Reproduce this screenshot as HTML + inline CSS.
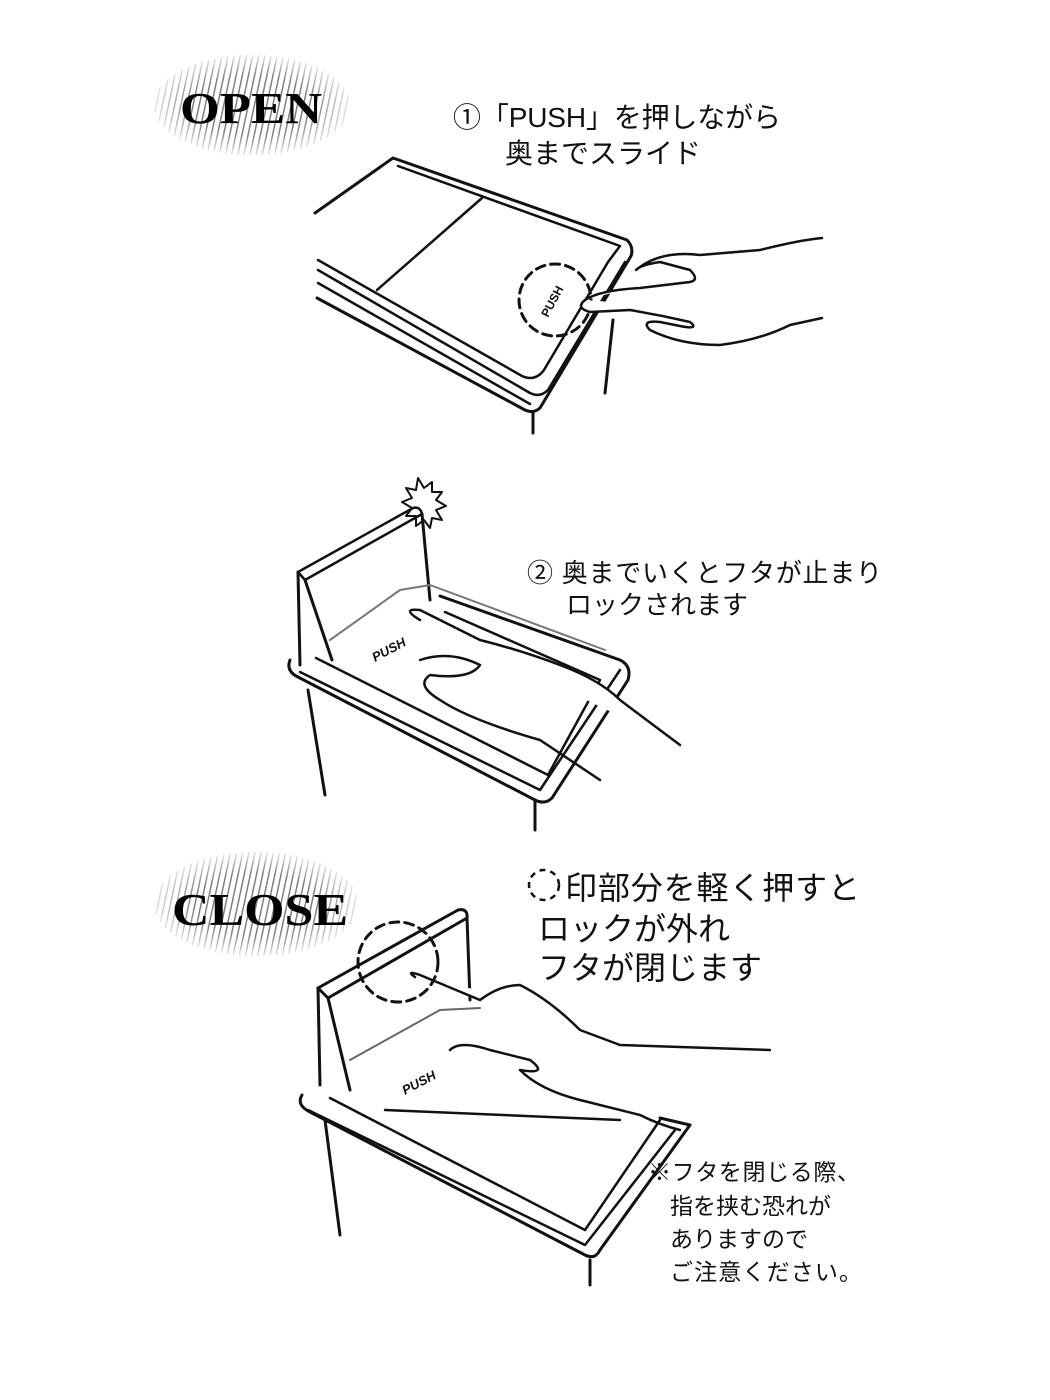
<!DOCTYPE html>
<html><head><meta charset="utf-8"><style>
html,body{margin:0;padding:0;background:#fff;}
svg{display:block}
.t{font-family:"Liberation Sans","Noto Sans CJK JP",sans-serif;fill:#111}
.b{font-family:"Liberation Serif",serif;font-weight:bold;fill:#000}
</style></head><body>
<svg width="1050" height="1400" viewBox="0 0 1050 1400" xmlns="http://www.w3.org/2000/svg">
<defs>
<pattern id="h" width="6" height="10" patternUnits="userSpaceOnUse" patternTransform="rotate(12)">
<rect width="6" height="10" fill="#fff"/><rect width="1.4" height="10" fill="#777"/></pattern>
<radialGradient id="fade"><stop offset="0.6" stop-color="#fff" stop-opacity="0"/><stop offset="1" stop-color="#fff" stop-opacity="0.8"/></radialGradient>
</defs>
<g fill="none" stroke="#111" stroke-width="3" stroke-linejoin="round" stroke-linecap="round">
<ellipse cx="252" cy="105" rx="98" ry="50" fill="url(#h)" stroke="none"/>
<ellipse cx="252" cy="105" rx="98" ry="50" fill="url(#fade)" stroke="none"/>
<ellipse cx="256" cy="904" rx="102" ry="52" fill="url(#h)" stroke="none"/>
<ellipse cx="256" cy="904" rx="102" ry="52" fill="url(#fade)" stroke="none"/>

<!-- Illustration 1 -->
<path d="M315 213 L393 158 L627 240 Q634 247 631 256 L540 408 Q533 414 525 410 L317 298"/>
<path d="M398 166 L620 246 L608 262 L544 370 Q535 382 522 376 L318 260" stroke-width="2.5"/>
<path d="M318 270 L530 393 Q540 398 548 390 L625 262" stroke-width="2.5"/>
<path d="M318 283 L530 404" stroke-width="2.5"/>
<path d="M482 198 L377 290" stroke-width="2.5"/>
<path d="M533 412 L533 433 M613 320 L605 393"/>
<circle cx="555" cy="300" r="36" stroke-dasharray="9 6" stroke-width="3"/>
<path d="M585 300 Q600 290 640 288 L690 282 Q700 280 690 270 L660 262 Q640 265 636 270 Q660 250 700 255 L760 250 Q800 240 822 238 M585 300 Q575 308 590 312 L630 310 Q660 315 690 322 Q700 330 680 326 L660 322 Q640 320 650 330 Q680 345 720 345 Q760 340 790 325 L822 318" fill="#fff" stroke-width="2.5"/>

<!-- Illustration 2 -->
<path d="M418 478 l6 10 l8 -6 l0 10 l10 0 l-6 8 l10 6 l-10 4 l6 10 l-10 -2 l-2 10 l-6 -8 l-8 6 l0 -10 l-10 0 l6 -8 l-10 -6 l10 -4 l-6 -10 l10 2 z" stroke-width="2" fill="#fff"/>
<path d="M298 572 L413 508 Q420 506 422 514 L305 580 Z" stroke-width="2.5"/>
<path d="M422 514 L430 600 M298 572 L300 665 M305 580 L332 660"/>
<path d="M330 640 L400 590 L430 585 L605 650" stroke="#777" stroke-width="2"/>
<path d="M290 660 Q286 670 296 676 L535 800 Q545 805 552 798 L628 680 Q632 666 620 660 L440 596" stroke-width="3"/>
<path d="M300 672 L540 790 L620 670 M316 658 L548 775 L600 680 L445 612" stroke-width="2.5"/>
<path d="M308 690 L325 795 M535 800 L535 830"/>
<text x="375" y="662" font-family="Liberation Sans" font-weight="bold" font-style="italic" font-size="13" fill="#111" stroke="none" transform="rotate(-28 375 662)">PUSH</text>
<path d="M420 620 Q400 608 420 610 L480 640 Q520 650 560 665 Q600 680 620 700 L680 745 M420 660 Q450 650 480 665 Q470 680 430 675 Q415 685 440 700 Q470 720 540 740 L600 780" fill="#fff" stroke-width="2.5"/>

<!-- Illustration 3 -->
<path d="M318 988 L458 910 Q468 908 467 918 L328 998 Z" stroke-width="3"/>
<path d="M467 918 L470 1000 M318 988 L320 1085 M328 998 L350 1090"/>
<path d="M350 1060 L440 1010 L480 1008" stroke="#666" stroke-width="2"/>
<circle cx="398" cy="962" r="40" stroke-dasharray="9 6" stroke-width="3"/>
<path d="M302 1095 Q296 1105 310 1112 L585 1255 Q595 1260 600 1250 L690 1125 L660 1118" stroke-width="3"/>
<path d="M308 1110 L585 1245 L675 1130 M330 1098 L585 1230 L660 1120 M385 1110 L620 1120" stroke-width="2.5"/>
<path d="M325 1120 L340 1235 M590 1260 L590 1285"/>
<text x="405" y="1095" font-family="Liberation Sans" font-weight="bold" font-style="italic" font-size="13" fill="#111" stroke="none" transform="rotate(-28 405 1095)">PUSH</text>
<path d="M415 977 Q405 970 420 975 L480 1000 Q500 985 520 985 Q550 1000 580 1030 L620 1045 L770 1050 M450 1050 Q460 1040 490 1050 L530 1060 Q550 1075 520 1070 Q540 1090 580 1100 L640 1115 Q660 1125 680 1130" fill="#fff" stroke-width="2.5"/>
</g>
<text x="548" y="318" font-family="Liberation Sans" font-weight="bold" font-size="12" fill="#111" transform="rotate(-62 548 318)">PUSH</text>

<text class="b" x="180" y="123" font-size="44" textLength="142" lengthAdjust="spacingAndGlyphs">OPEN</text>
<text class="b" x="172" y="925" font-size="46" textLength="176" lengthAdjust="spacingAndGlyphs">CLOSE</text>

<text class="t" x="453" y="127" font-size="28" textLength="328">①「PUSH」を押しながら</text>
<text class="t" x="505" y="163" font-size="28">奥までスライド</text>

<text class="t" x="527" y="582" font-size="26" textLength="355">② 奥までいくとフタが止まり</text>
<text class="t" x="566" y="614" font-size="26">ロックされます</text>

<circle cx="544" cy="885" r="15" fill="none" stroke="#111" stroke-width="2.5" stroke-dasharray="6 5"/>
<text class="t" x="565" y="899" font-size="32" textLength="295">印部分を軽く押すと</text>
<text class="t" x="538" y="940" font-size="32">ロックが外れ</text>
<text class="t" x="538" y="979" font-size="32">フタが閉じます</text>

<text class="t" x="648" y="1180" font-size="23" textLength="212">※フタを閉じる際、</text>
<text class="t" x="670" y="1214" font-size="23">指を挟む恐れが</text>
<text class="t" x="670" y="1247" font-size="23">ありますので</text>
<text class="t" x="670" y="1280" font-size="23" textLength="192">ご注意ください。</text>
</svg>
</body></html>
